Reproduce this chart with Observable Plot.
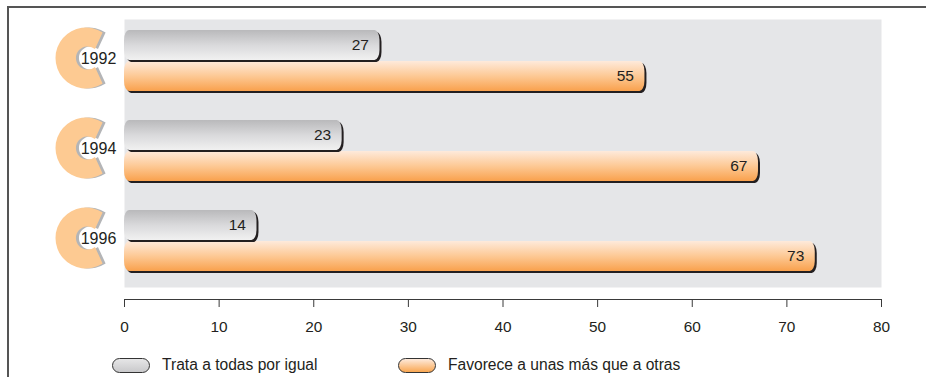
<!DOCTYPE html>
<html>
<head>
<meta charset="utf-8">
<script src="https://cdn.jsdelivr.net/npm/d3@7"></script>
<script src="https://cdn.jsdelivr.net/npm/@observablehq/plot@0.6"></script>
<style>
  html, body { margin: 0; padding: 0; background: #fff; }
  body { width: 926px; height: 377px; position: relative; overflow: hidden;
         font-family: "Liberation Sans", Arial, Helvetica, sans-serif; color: #231f20; }
  #border { position: absolute; left: 7px; top: 6px; width: 919px; height: 371px;
            border-top: 2px solid #555; border-left: 2px solid #555; box-sizing: border-box; }
  #chart { position: absolute; left: 0; top: 0; }
  .item { position: absolute; top: 356px; display: flex; align-items: center; font-size: 15.6px; white-space: nowrap; }
  .pill { width: 36px; height: 13px; border: 1px solid #333; border-radius: 8px; margin-right: 12px; }
</style>
</head>
<body>
<div id="border"></div>
<div id="chart"></div>
<div id="legend"></div>
<script>
// ---- data ----
const years = ["1992", "1994", "1996"];
const trataIgual = [27, 23, 14];
const favorece = [55, 67, 73];
const seriesNames = ["Trata a todas por igual", "Favorece a unas más que a otras"];
const xTicks = [0, 10, 20, 30, 40, 50, 60, 70, 80];

const data = years.map((y, i) => ({year: y, igual: trataIgual[i], favorece: favorece[i]}));

// C-shaped ring symbol
const cSymbol = {
  draw(context, size) {
    const R = Math.sqrt(size / Math.PI);
    const a = 57 * Math.PI / 180;
    const ci = 0.05 * R, ri = 0.38 * R;
    const b = 50 * Math.PI / 180;
    context.moveTo(R * Math.cos(-a), R * Math.sin(-a));
    context.arc(0, 0, R, -a, a, true);
    context.lineTo(ci + ri * Math.cos(b), ri * Math.sin(b));
    context.arc(ci, 0, ri, b, 2 * Math.PI - b, false);
    context.closePath();
  }
};

const txt = "#231f20";

const svg = Plot.plot({
  width: 926,
  height: 340,
  marginLeft: 124,
  marginRight: 45,
  marginTop: 19,
  marginBottom: 41,
  style: {fontFamily: "'Liberation Sans', Arial, Helvetica, sans-serif", fontSize: "15.4px", color: "#3a3a3a", background: "transparent"},
  x: {domain: [0, 80], ticks: xTicks, tickSize: 8, tickPadding: 14, label: null, line: true},
  y: {domain: years, paddingInner: 0.32, paddingOuter: 0.2, align: 0.28, axis: null},
  marks: [
    Plot.frame({fill: "#e5e6e8", stroke: "none", insetBottom: 12}),
    // orange bars (shadow + gradient)
    Plot.barX(data, {x: "favorece", y: "year", insetTop: 31, dx: 2, dy: 2, rx: 5, ry: 10, fill: "#231f20"}),
    Plot.barX(data, {x: "favorece", y: "year", insetTop: 31, rx: 5, ry: 10, fill: "url(#gOrange)"}),
    // gray bars (shadow + gradient)
    Plot.barX(data, {x: "igual", y: "year", insetBottom: 31, dx: 2, dy: 2, rx: 5, ry: 10, fill: "#231f20"}),
    Plot.barX(data, {x: "igual", y: "year", insetBottom: 31, rx: 5, ry: 10, fill: "url(#gGray)"}),
    // value labels
    Plot.text(data, {x: "igual", y: "year", text: d => String(d.igual), textAnchor: "end", dx: -11, dy: -15.5, fontSize: 15.5, fill: txt}),
    Plot.text(data, {x: "favorece", y: "year", text: d => String(d.favorece), textAnchor: "end", dx: -11, dy: 15.5, fontSize: 15.5, fill: txt}),
    // year rings
    Plot.dot(years, {y: d => d, frameAnchor: "left", dx: -35.5, dy: -3, r: 30.5, symbol: cSymbol, fill: "#b4b5b7", stroke: "none"}),
    Plot.dot(years, {y: d => d, frameAnchor: "left", dx: -38.5, dy: -3, r: 30.5, symbol: cSymbol, fill: "#fdca92", stroke: "none"}),
    Plot.text(years, {y: d => d, text: d => d, frameAnchor: "left", dx: -26, dy: -2.5, textAnchor: "middle", fontSize: 16, fill: txt})
  ]
});

// gradient definitions
const ns = "http://www.w3.org/2000/svg";
const defs = document.createElementNS(ns, "defs");
function grad(id, stops) {
  const g = document.createElementNS(ns, "linearGradient");
  g.setAttribute("id", id);
  g.setAttribute("x1", "0"); g.setAttribute("y1", "0");
  g.setAttribute("x2", "0"); g.setAttribute("y2", "1");
  for (const [o, c] of stops) {
    const s = document.createElementNS(ns, "stop");
    s.setAttribute("offset", o);
    s.setAttribute("stop-color", c);
    g.appendChild(s);
  }
  defs.appendChild(g);
}
grad("gGray", [["0", "#b9b9bb"], ["0.5", "#d9d9db"], ["1", "#f1f1f1"]]);
grad("gOrange", [["0", "#feeadb"], ["0.5", "#fdc995"], ["1", "#f9a14d"]]);
svg.insertBefore(defs, svg.firstChild);
svg.querySelectorAll("g[aria-label='x-axis tick label']").forEach(el => el.setAttribute("fill", txt));
document.getElementById("chart").appendChild(svg);

// legend
const legend = document.getElementById("legend");
const legendFills = [
  "linear-gradient(#e6e6e7, #c9c9cb)",
  "linear-gradient(#feeadb, #f9a752)"
];
const legendLeft = [112, 398];
seriesNames.forEach((name, i) => {
  const item = document.createElement("div");
  item.className = "item";
  item.style.left = legendLeft[i] + "px";
  const pill = document.createElement("span");
  pill.className = "pill";
  pill.style.background = legendFills[i];
  const label = document.createElement("span");
  label.textContent = name;
  item.appendChild(pill);
  item.appendChild(label);
  legend.appendChild(item);
});
</script>
</body>
</html>
